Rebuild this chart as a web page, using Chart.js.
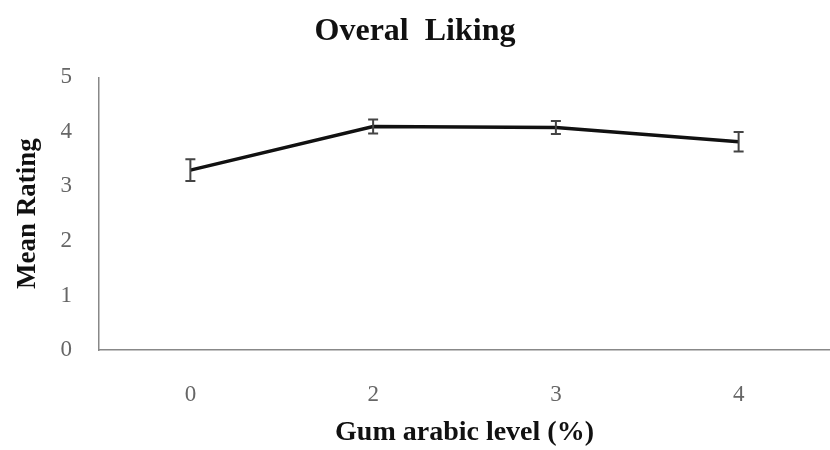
<!DOCTYPE html>
<html>
<head>
<meta charset="utf-8">
<script src="https://cdn.jsdelivr.net/npm/chart.js@4/dist/chart.umd.min.js"></script>
<style>
  html, body { margin: 0; padding: 0; background: #fff; }
  #wrap { width: 830px; height: 450px; }
</style>
</head>
<body>
<div id="wrap"><canvas id="liking"></canvas></div>
<script>
// data
var levels = ['0', '2', '3', '4'];
var meanRating = [3.3, 4.1, 4.08, 3.82];
var errRating = [0.2, 0.13, 0.12, 0.18];
var yTicks = [0, 1, 2, 3, 4, 5];

// error bars with caps
var errorBars = {
	id: 'errorBars',
	afterDatasetsDraw: function (chart) {
		var ctx = chart.ctx;
		var meta = chart.getDatasetMeta(0);
		var y = chart.scales.y;
		ctx.save();
		ctx.strokeStyle = '#444';
		ctx.lineWidth = 2;
		meta.data.forEach(function (pt, i) {
			var top = y.getPixelForValue(meanRating[i] + errRating[i]);
			var bot = y.getPixelForValue(meanRating[i] - errRating[i]);
			ctx.beginPath();
			ctx.moveTo(pt.x, top);
			ctx.lineTo(pt.x, bot);
			ctx.moveTo(pt.x - 5, top);
			ctx.lineTo(pt.x + 5, top);
			ctx.moveTo(pt.x - 5, bot);
			ctx.lineTo(pt.x + 5, bot);
			ctx.stroke();
		});
		ctx.restore();
	}
};

new Chart(document.getElementById('liking').getContext('2d'), {
	type: 'line',
	data: {
		labels: levels,
		datasets: [{
			label: 'Overal Liking',
			data: meanRating,
			borderColor: '#111',
			borderWidth: 3.5,
			pointRadius: 0,
			tension: 0,
			fill: false,
		}],
	},
	options: {
		responsive: true,
		maintainAspectRatio: false,
		animation: false,
		layout: { padding: { left: 0, right: 0, top: 8, bottom: 0 } },
		plugins: {
			legend: { display: false },
			tooltip: { enabled: false },
			title: {
				display: true,
				text: 'Overal  Liking',
				color: '#111',
				font: { family: 'Liberation Serif', size: 32, weight: 'bold' },
				padding: { top: 5, bottom: 26 },
			},
		},
		scales: {
			x: {
				offset: true,
				afterFit: function (axis) { axis.height = 100; },
				grid: { display: false, drawTicks: false },
				border: { display: true, color: '#888', width: 1.5 },
				ticks: {
					color: '#666',
					padding: 31,
					font: { family: 'Liberation Serif', size: 23 },
				},
				title: {
					display: true,
					text: 'Gum arabic level (%)',
					color: '#111',
					font: { family: 'Liberation Serif', size: 28, weight: 'bold' },
					padding: { top: 0, bottom: 0 },
				},
			},
			y: {
				min: 0,
				max: 5,
				afterFit: function (axis) { axis.width = 99; },
				afterBuildTicks: function (axis) {
					axis.ticks = yTicks.map(function (v) { return { value: v }; });
				},
				grid: { display: false, drawTicks: false },
				border: { display: true, color: '#888', width: 1.5 },
				ticks: {
					color: '#666',
					padding: 27,
					font: { family: 'Liberation Serif', size: 23 },
				},
				title: {
					display: true,
					text: 'Mean Rating',
					color: '#111',
					font: { family: 'Liberation Serif', size: 27, weight: 'bold' },
					padding: { top: 12, bottom: 0 },
				},
			},
		},
	},
	plugins: [errorBars],
});
</script>
</body>
</html>
